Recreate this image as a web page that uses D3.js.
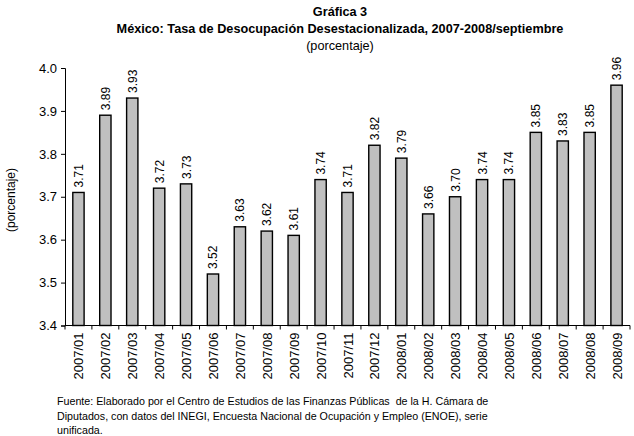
<!DOCTYPE html>
<html>
<head>
<meta charset="utf-8">
<script src="https://cdn.jsdelivr.net/npm/d3@7"></script>
<style>
  body { margin: 0; background: #fff; }
  text { font-family: "Liberation Sans", Arial, sans-serif; }
</style>
</head>
<body>
<div id="chart"></div>
<script>
// Data
const periods = ["2007/01", "2007/02", "2007/03", "2007/04", "2007/05", "2007/06", "2007/07",
    "2007/08", "2007/09", "2007/10", "2007/11", "2007/12", "2008/01", "2008/02", "2008/03",
    "2008/04", "2008/05", "2008/06", "2008/07", "2008/08", "2008/09"];
const rates = [3.71, 3.89, 3.93, 3.72, 3.73, 3.52, 3.63, 3.62, 3.61, 3.74, 3.71, 3.82, 3.79,
    3.66, 3.70, 3.74, 3.74, 3.85, 3.83, 3.85, 3.96];
const yTicks = [3.4, 3.5, 3.6, 3.7, 3.8, 3.9, 4.0];

const width = 634;
const height = 436;
const plot = { left: 65, right: 630, top: 68, bottom: 325.5 };

const svg = d3.select("#chart").append("svg")
    .attr("width", width)
    .attr("height", height);

// Titles
const titles = [
    { text: "Gráfica 3", y: 16, weight: "bold" },
    { text: "México: Tasa de Desocupación Desestacionalizada, 2007-2008/septiembre", y: 32.5, weight: "bold" },
    { text: "(porcentaje)", y: 49.5, weight: "normal" }
];
titles.forEach(t => {
    svg.append("text")
        .attr("x", 340)
        .attr("y", t.y)
        .attr("text-anchor", "middle")
        .attr("font-size", "12.7px")
        .attr("font-weight", t.weight)
        .text(t.text);
});

const x = d3.scaleBand()
    .domain(periods)
    .range([plot.left, plot.right])
    .paddingInner(0.58)
    .paddingOuter(0.29);

const y = d3.scaleLinear()
    .domain([3.4, 4.0])
    .range([plot.bottom, plot.top]);

// Bars
svg.append("g")
    .selectAll("rect")
    .data(rates)
    .join("rect")
    .attr("x", (d, i) => x(periods[i]))
    .attr("y", d => y(d))
    .attr("width", x.bandwidth())
    .attr("height", d => y(3.4) - y(d))
    .attr("fill", "#c0c0c0")
    .attr("stroke", "#000")
    .attr("stroke-width", 1.4);

// Value labels, rotated
svg.append("g")
    .selectAll("text")
    .data(rates)
    .join("text")
    .attr("transform", (d, i) => `translate(${x(periods[i]) + x.bandwidth() / 2 + 4.5}, ${y(d) - 5}) rotate(-90)`)
    .attr("font-size", "12px")
    .text(d => d.toFixed(2));

// Y axis
const yAxis = svg.append("g")
    .attr("transform", `translate(${plot.left},0)`)
    .call(d3.axisLeft(y).tickValues(yTicks).tickFormat(d3.format(".1f")).tickSize(4).tickPadding(4));
yAxis.select(".domain").attr("stroke", "#000");
yAxis.selectAll("text").attr("font-size", "13px").attr("font-family", "Liberation Sans, Arial, sans-serif").attr("fill", "#000");

// X axis: ticks at category boundaries
const step = x.step();
const xg = svg.append("g");
xg.append("line")
    .attr("x1", plot.left).attr("x2", plot.right)
    .attr("y1", plot.bottom).attr("y2", plot.bottom)
    .attr("stroke", "#000");
xg.selectAll("line.tick")
    .data(d3.range(periods.length + 1))
    .join("line")
    .attr("class", "tick")
    .attr("x1", i => plot.left + i * step)
    .attr("x2", i => plot.left + i * step)
    .attr("y1", plot.bottom)
    .attr("y2", plot.bottom + 4)
    .attr("stroke", "#000");
xg.selectAll("text")
    .data(periods)
    .join("text")
    .attr("transform", d => `translate(${x(d) + x.bandwidth() / 2 + 5}, ${plot.bottom + 7}) rotate(-90)`)
    .attr("text-anchor", "end")
    .attr("font-size", "13px")
    .text(d => d);

// Y axis title
svg.append("text")
    .attr("transform", "translate(15, 200) rotate(-90)")
    .attr("text-anchor", "middle")
    .attr("font-size", "12px")
    .text("(porcentaje)");

// Source note
const notes = [
    "Fuente: Elaborado por el Centro de Estudios de las Finanzas Públicas  de la H. Cámara de",
    "Diputados, con datos del INEGI, Encuesta Nacional de Ocupación y Empleo (ENOE), serie",
    "unificada."
];
svg.append("g")
    .selectAll("text")
    .data(notes)
    .join("text")
    .attr("x", 57)
    .attr("y", (d, i) => 405 + i * 14.5)
    .attr("font-size", "10.7px")
    .attr("xml:space", "preserve")
    .style("white-space", "pre")
    .text(d => d);
</script>
</body>
</html>
